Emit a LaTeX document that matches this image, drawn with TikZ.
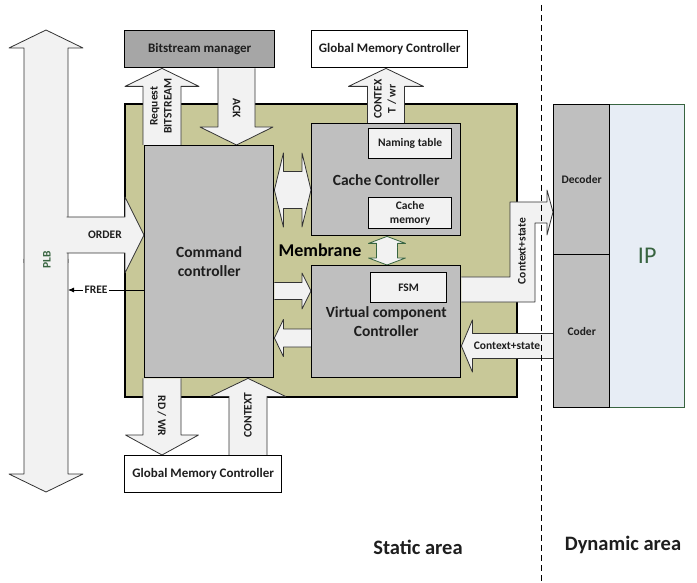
\documentclass[tikz,border=0pt]{standalone}
\usepackage{fontspec}
\setmainfont{Carlito}
\usetikzlibrary{calc,arrows.meta}

\definecolor{membrane}{RGB}{200,200,152}
\definecolor{boxgray}{RGB}{191,191,191}
\definecolor{bsmgray}{RGB}{166,166,166}
\definecolor{arrowfill}{RGB}{242,242,242}
\definecolor{ipblue}{RGB}{231,237,245}
\definecolor{ipgreen}{RGB}{56,100,64}
\definecolor{txt}{RGB}{30,30,30}

\pgfdeclarelayer{back}
\pgfdeclarelayer{arrows}
\pgfdeclarelayer{front}
\pgfsetlayers{back,arrows,main,front}

\tikzset{
  box/.style={draw=black, line width=1.4pt, anchor=north west, inner sep=0pt, align=center,
    text=txt, font=\bfseries\fontsize{15.5}{19}\selectfont},
  smallbox/.style={box, fill=arrowfill, line width=1.2pt, font=\bfseries\fontsize{11.5}{14}\selectfont},
  barrow/.style={draw=black!80, line width=0.8pt, fill=arrowfill, line join=round},
  alabel/.style={text=txt, font=\bfseries\fontsize{11.5}{14}\selectfont, align=center, inner sep=0pt},
  area/.style={text=txt, font=\bfseries\fontsize{20.5}{24}\selectfont},
}

% block arrow: [options]{from}{to}{half shaft}{half head}{head length}
\newcommand{\blockarrow}[6][]{%
  \coordinate (hb) at ($(#3)!#6!(#2)$);
  \draw[barrow,#1] ($(#2)!#4!90:(#3)$) -- ($(hb)!#4!90:(#3)$) -- ($(hb)!#5!90:(#3)$) -- (#3)
    -- ($(hb)!#5!-90:(#3)$) -- ($(hb)!#4!-90:(#3)$) -- ($(#2)!#4!-90:(#3)$);
}

\begin{document}
\begin{tikzpicture}[x=1pt, y=-1pt]
\useasboundingbox (0,0) rectangle (697,583);

% PLB bus and membrane
\begin{pgfonlayer}{back}
  \coordinate (plbtop) at (46,30);
  \coordinate (plbbot) at (46,492);
  \coordinate (plbup) at (46,263);
  \coordinate (plbdown) at (46,259);
  \blockarrow{plbup}{plbtop}{22pt}{37pt}{18pt}
  \blockarrow{plbdown}{plbbot}{22pt}{37pt}{18pt}
  \node[box, fill=membrane, line width=2.4pt, minimum width=392pt, minimum height=293pt] (mem) at (124,103) {};
\end{pgfonlayer}

% Blocks
\node[box, fill=bsmgray, minimum width=150pt, minimum height=37pt, font=\bfseries\fontsize{13}{15}\selectfont] (bsm) at (124,30) {Bitstream manager};
\node[box, fill=white, minimum width=156pt, minimum height=37pt, font=\bfseries\fontsize{13}{15}\selectfont] (gmctop) at (311,30) {Global Memory Controller};
\node[box, fill=white, minimum width=157pt, minimum height=37pt, font=\bfseries\fontsize{13}{15}\selectfont] (gmcbot) at (124,455) {Global Memory Controller};
\node[box, fill=boxgray, minimum width=129pt, minimum height=232pt] (cmd) at (144,145) {Command\\controller};
\node[box, fill=boxgray, minimum width=149pt, minimum height=112pt] (cache) at (311,123) {Cache Controller};
\node[smallbox, minimum width=83pt, minimum height=30pt] (naming) at (368,128) {Naming table};
\node[smallbox, minimum width=83pt, minimum height=31pt] (cmem) at (368,197) {Cache\\memory};
\node[box, fill=boxgray, minimum width=149pt, minimum height=112pt] (vcc) at (311,265) {Virtual component\\Controller};
\node[smallbox, minimum width=76pt, minimum height=30pt] (fsm) at (370,272) {FSM};

% Dynamic part
\node[box, draw=ipgreen, fill=ipblue, minimum width=75pt, minimum height=303pt, text=ipgreen, font=\fontsize{24}{28}\selectfont] (ip) at (609,104) {IP};
\node[box, fill=boxgray, minimum width=56pt, minimum height=150pt, font=\bfseries\fontsize{11.5}{14}\selectfont] (dec) at (553,104) {Decoder};
\node[box, fill=boxgray, minimum width=56pt, minimum height=153pt, font=\bfseries\fontsize{11.5}{14}\selectfont] (coder) at (553,254) {Coder};

% Block arrows
\begin{pgfonlayer}{arrows}
  \coordinate (orderstart) at (66.5,235);
  \blockarrow{orderstart}{cmd.west |- orderstart}{18pt}{38pt}{19pt}
  \coordinate (reqx) at (162,0);
  \blockarrow{cmd.north -| reqx}{bsm.south -| reqx}{19pt}{37pt}{18pt}
  \coordinate (ackx) at (236.5,0);
  \blockarrow{bsm.south -| ackx}{cmd.north -| ackx}{18.5pt}{36.5pt}{18pt}
  \coordinate (ctxx) at (386,0);
  \blockarrow{cache.north -| ctxx}{gmctop.south -| ctxx}{18.5pt}{37.5pt}{18pt}
  \coordinate (ccl) at (294,190);
  \coordinate (ccr) at (291,190);
  \blockarrow{ccl}{cmd.east |- ccl}{18.5pt}{37pt}{9pt}
  \blockarrow{ccr}{cache.west |- ccr}{18.5pt}{37pt}{9pt}
  \coordinate (cvy) at (0,291);
  \blockarrow{cmd.east |- cvy}{vcc.west |- cvy}{8.5pt}{18pt}{9pt}
  \coordinate (vcy) at (0,338);
  \blockarrow{vcc.west |- vcy}{cmd.east |- vcy}{9pt}{18.5pt}{9pt}
  \coordinate (cvu) at (387,252);
  \coordinate (cvd) at (387,248);
  \blockarrow[draw=ipgreen]{cvu}{cache.south -| cvu}{10.5pt}{18.5pt}{7pt}
  \blockarrow[draw=ipgreen]{cvd}{vcc.north -| cvd}{10.5pt}{18.5pt}{7pt}
  \coordinate (rdx) at (162,0);
  \blockarrow{cmd.south -| rdx}{gmcbot.north -| rdx}{19pt}{36.5pt}{20pt}
  \coordinate (cbx) at (248,0);
  \blockarrow{gmcbot.north -| cbx}{cmd.south -| cbx}{19pt}{37.5pt}{18pt}
  \coordinate (csy) at (0,346);
  \blockarrow{coder.west |- csy}{vcc.east |- csy}{12.5pt}{26pt}{11pt}
  % context towards decoder
  \coordinate (csin) at (510,277);
  \coordinate (csout) at (535,302);
  \coordinate (cstip) at (553,212);
  \draw[barrow] (vcc.east |- csin) -- (csin) -- (510,202) -- (547,202) -- (547,190) -- (dec.west |- cstip)
    -- (547,235) -- (547,223) -- (535,223) -- (csout) -- (vcc.east |- csout);
\end{pgfonlayer}

% FREE signal
\coordinate (plbfree) at (68,290);
\draw[black, line width=0.8pt, -{Latex[length=6pt,width=5pt]}] (cmd.west |- plbfree) -- (plbfree);

% Labels
\node[alabel, rotate=90] (reqlbl) at (161,106) {Request\\BITSTREAM};
\node[alabel, rotate=-90] (acklbl) at (236.5,108) {ACK};
\node[alabel, rotate=90] (ctxlbl) at (385,99) {CONTEX\\T / wr};
\node[alabel] (orderlbl) at (105,235) {ORDER};
\node[alabel, text=ipgreen, rotate=90] (plblbl) at (47,260) {PLB};
\node[alabel, fill=white, inner sep=1.5pt] (freelbl) at (96,290) {FREE};
\node[alabel, rotate=-90] (rdlbl) at (162,416) {RD / WR};
\node[alabel, rotate=90] (ctxblbl) at (248,415) {CONTEXT};
\node[alabel, rotate=90] (csuplbl) at (522,251) {Context+state};
\node[alabel] (csdnlbl) at (507,346) {Context+state};
\node[text=black, font=\bfseries\fontsize{18}{22}\selectfont] (memlbl) at (320,250) {Membrane};
\node[area] (static) at (418,547) {Static area};
\node[area] (dynamic) at (623,545) {Dynamic area};

% Static / dynamic border
\begin{pgfonlayer}{front}
  \draw[black, line width=0.9pt, dash pattern=on 6pt off 4pt] (541,5) -- (541,583);
\end{pgfonlayer}
\end{tikzpicture}
\end{document}
